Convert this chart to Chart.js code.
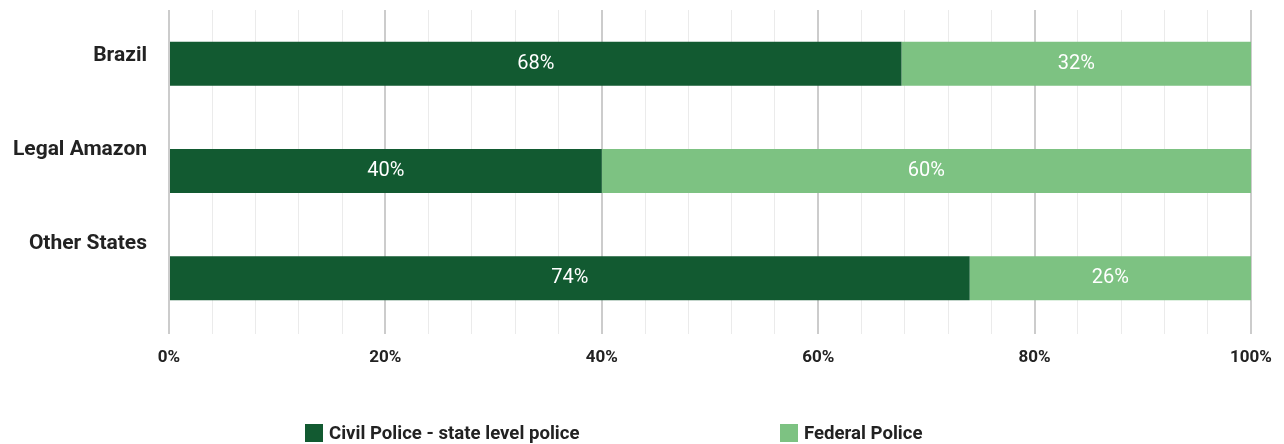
<!DOCTYPE html>
<html>
<head>
<meta charset="utf-8">
<script src="https://cdn.jsdelivr.net/npm/chart.js@4.4.1/dist/chart.umd.min.js"></script>
<style>
html,body{margin:0;padding:0;background:#fff;}
#wrap{width:1284px;height:444px;position:relative;}
</style>
</head>
<body>
<div id="wrap"><canvas id="c" width="1284" height="444"></canvas></div>
<script>
const categories = ["Brazil", "Legal Amazon", "Other States"];
const civilPolice = [67.7, 40, 74];
const federalPolice = [32.3, 60, 26];
const seriesNames = ["Civil Police - state level police", "Federal Police"];
const xTickValues = [0, 20, 40, 60, 80, 100];

const DARK = "#125a31";
const LIGHT = "#7dc282";
const FONT = "Roboto, 'Noto Sans', sans-serif";

const valueLabels = {
  id: "valueLabels",
  afterDatasetsDraw(chart) {
    const ctx = chart.ctx;
    ctx.save();
    ctx.font = "400 20px " + FONT;
    ctx.fillStyle = "#ffffff";
    ctx.textAlign = "center";
    ctx.textBaseline = "middle";
    chart.data.datasets.forEach((ds, di) => {
      const meta = chart.getDatasetMeta(di);
      meta.data.forEach((bar, i) => {
        const left = Math.min(bar.x, bar.base);
        const right = Math.max(bar.x, bar.base);
        ctx.fillText(Math.round(ds.data[i]) + "%", (left + right) / 2, bar.y);
      });
    });
    ctx.restore();
  }
};

const catLabels = {
  id: "catLabels",
  afterDraw(chart) {
    const ctx = chart.ctx;
    const area = chart.chartArea;
    ctx.save();
    ctx.font = "700 21px " + FONT;
    ctx.fillStyle = "#222222";
    ctx.textAlign = "right";
    ctx.textBaseline = "middle";
    categories.forEach((c, i) => {
      ctx.fillText(c, area.left - 22, area.top + 46 + i * 94);
    });
    ctx.restore();
  }
};

const legendPlugin = {
  id: "customLegend",
  afterDraw(chart) {
    const ctx = chart.ctx;
    ctx.save();
    ctx.font = "700 18.6px " + FONT;
    ctx.textBaseline = "middle";
    ctx.textAlign = "left";
    const startX = [305, 780];
    chart.data.datasets.forEach((ds, i) => {
      const x = startX[i];
      const y = 433;
      ctx.fillStyle = ds.backgroundColor;
      ctx.fillRect(x, y - 9, 18, 18);
      ctx.fillStyle = "#222222";
      ctx.fillText(ds.label, x + 24, y + 1);
    });
    ctx.restore();
  }
};

new Chart(document.getElementById("c"), {
  type: "bar",
  data: {
    labels: categories,
    datasets: [
      { label: seriesNames[0], data: civilPolice, backgroundColor: DARK, borderWidth: 0 },
      { label: seriesNames[1], data: federalPolice, backgroundColor: LIGHT, borderWidth: 0 }
    ]
  },
  options: {
    indexAxis: "y",
    responsive: false,
    animation: false,
    devicePixelRatio: 1,
    layout: { padding: { left: 0, right: 33, top: 10, bottom: 0 } },
    plugins: {
      legend: { display: false },
      tooltip: { enabled: false }
    },
    datasets: { bar: { barPercentage: 0.82, categoryPercentage: 0.5 } },
    scales: {
      x: {
        stacked: true,
        min: 0,
        max: 100,
        afterFit(scale) {
          scale.height = 112;
          scale.paddingLeft = 0;
          scale.paddingRight = 0;
        },
        afterBuildTicks(scale) {
          const t = [];
          for (let v = 0; v <= 100; v += 4) t.push({ value: v });
          scale.ticks = t;
        },
        border: { display: false },
        grid: {
          drawTicks: true,
          tickLength: 2,
          color(ctx) {
            const v = ctx.tick ? ctx.tick.value : 0;
            return xTickValues.includes(v) ? "#cccccc" : "#ebebeb";
          },
          lineWidth(ctx) {
            const v = ctx.tick ? ctx.tick.value : 0;
            return xTickValues.includes(v) ? 2 : 1;
          }
        },
        ticks: {
          autoSkip: false,
          maxRotation: 0,
          padding: 14,
          color: "#222222",
          font: { family: FONT, size: 17, weight: "700" },
          callback(value) {
            return xTickValues.includes(value) ? value + "%" : "";
          }
        }
      },
      y: {
        stacked: true,
        afterFit(scale) { scale.width = 169; },
        border: { display: false },
        grid: { display: false },
        ticks: { display: false }
      }
    }
  },
  plugins: [valueLabels, catLabels, legendPlugin]
});
</script>
</body>
</html>
